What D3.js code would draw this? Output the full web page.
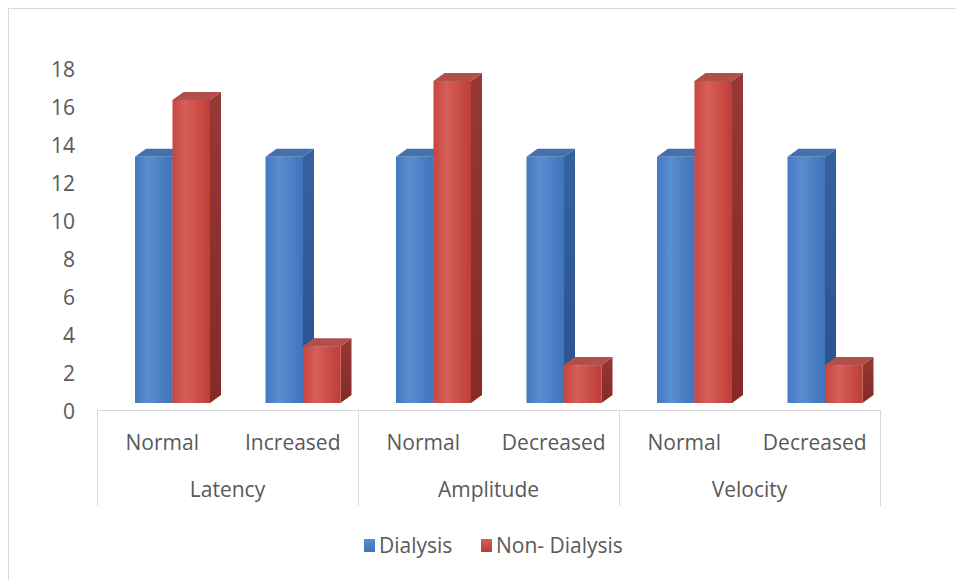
<!DOCTYPE html>
<html>
<head>
<meta charset="utf-8">
<script src="https://cdn.jsdelivr.net/npm/d3@7"></script>
<style>
  html, body { margin: 0; padding: 0; background: #fff; }
  svg { display: block; }
  text { font-family: "Open Sans", "Liberation Sans", sans-serif; fill: #595959; }
</style>
</head>
<body>
<svg id="chart" width="956" height="580"></svg>
<script>
// Nerve conduction findings by group
const groups = ["Latency", "Amplitude", "Velocity"];
const subcategories = ["Normal", "Increased", "Normal", "Decreased", "Normal", "Decreased"];
const seriesNames = ["Dialysis", "Non- Dialysis"];
const dialysis = [13, 13, 13, 13, 13, 13];
const nonDialysis = [16, 3, 17, 2, 17, 2];
const yTicks = [0, 2, 4, 6, 8, 10, 12, 14, 16, 18];

const svg = d3.select("#chart");
const W = 956, H = 580;
const FONT = 21;

// chart frame (left and top edges fall inside the view)
svg.append("rect")
  .attr("x", 8.5).attr("y", 8.5)
  .attr("width", W + 20).attr("height", H + 20)
  .attr("fill", "#fff").attr("stroke", "#d9d9d9").attr("stroke-width", 1);

const plotLeft = 97, plotRight = 880;
const baseY = 403;
const depthX = 11, depthY = -8;

const x0 = d3.scaleBand()
  .domain(d3.range(subcategories.length))
  .range([plotLeft, plotRight])
  .paddingInner(0).paddingOuter(0);
const x1 = d3.scaleBand()
  .domain(seriesNames)
  .range([38, 113]);

// front-face height scale and the back-wall scale used for tick labels
const yFront = d3.scaleLinear().domain([0, 18]).range([baseY, 62]);
const yAxisScale = d3.scaleLinear().domain([0, 18]).range([411, 69]);

// gradients
const defs = svg.append("defs");
function hGrad(id, stops) {
  const g = defs.append("linearGradient").attr("id", id)
    .attr("x1", "0%").attr("y1", "0%").attr("x2", "100%").attr("y2", "0%");
  stops.forEach(s => g.append("stop").attr("offset", s[0]).attr("stop-color", s[1]));
}
function vGrad(id, stops) {
  const g = defs.append("linearGradient").attr("id", id)
    .attr("x1", "0%").attr("y1", "0%").attr("x2", "0%").attr("y2", "100%");
  stops.forEach(s => g.append("stop").attr("offset", s[0]).attr("stop-color", s[1]));
}
hGrad("blueFront", [["0%", "#4379c2"], ["35%", "#5a8dd0"], ["100%", "#3f74bb"]]);
hGrad("redFront", [["0%", "#c8453f"], ["35%", "#d55f5a"], ["100%", "#c03d37"]]);
vGrad("blueSide", [["0%", "#35629f"], ["100%", "#2a5390"]]);
vGrad("redSide", [["0%", "#973834"], ["100%", "#842a27"]]);
vGrad("blueLeg", [["0%", "#5c8fd0"], ["100%", "#3e72b9"]]);
vGrad("redLeg", [["0%", "#d0605c"], ["100%", "#bd3b35"]]);

const palette = {
  "Dialysis": { front: "url(#blueFront)", side: "url(#blueSide)", top: "#4470ad" },
  "Non- Dialysis": { front: "url(#redFront)", side: "url(#redSide)", top: "#b0504c" }
};

// category axis
const axisG = svg.append("g");
axisG.append("line")
  .attr("x1", plotLeft).attr("x2", plotRight)
  .attr("y1", 410.5).attr("y2", 410.5)
  .attr("stroke", "#d9d9d9");
groups.forEach((g, i) => {
  const xs = x0(i * 2);
  axisG.append("line")
    .attr("x1", Math.round(xs) + 0.5).attr("x2", Math.round(xs) + 0.5)
    .attr("y1", 410).attr("y2", 506).attr("stroke", "#d9d9d9");
});
axisG.append("line")
  .attr("x1", plotRight + 0.5).attr("x2", plotRight + 0.5)
  .attr("y1", 410).attr("y2", 506).attr("stroke", "#d9d9d9");

subcategories.forEach((s, i) => {
  axisG.append("text")
    .attr("x", x0(i) + x0.bandwidth() / 2)
    .attr("y", 442)
    .attr("text-anchor", "middle")
    .attr("dominant-baseline", "central")
    .attr("font-size", FONT)
    .text(s);
});
groups.forEach((g, i) => {
  axisG.append("text")
    .attr("x", x0(i * 2) + x0.bandwidth())
    .attr("y", 489)
    .attr("text-anchor", "middle")
    .attr("dominant-baseline", "central")
    .attr("font-size", FONT)
    .text(g);
});

// value axis labels
const yAxis = d3.axisLeft(yAxisScale).tickValues(yTicks).tickSize(0).tickPadding(0);
const yG = svg.append("g").attr("transform", "translate(75,0)").call(yAxis);
yG.select(".domain").remove();
yG.selectAll("text")
  .attr("font-size", FONT)
  .attr("font-family", "'Open Sans', sans-serif")
  .attr("fill", "#595959")
  .attr("dy", "0.35em");

// 3D columns
const rows = subcategories.map((s, i) => ({ i, values: [dialysis[i], nonDialysis[i]] }));
const barsG = svg.append("g");
rows.forEach(r => {
  seriesNames.forEach((name, k) => {
    const v = r.values[k];
    const x = x0(r.i) + x1(name);
    const w = x1.bandwidth();
    const yt = yFront(v);
    const c = palette[name];
    const g = barsG.append("g");
    // side face
    g.append("polygon")
      .attr("points", [
        [x + w, yt], [x + w + depthX, yt + depthY],
        [x + w + depthX, baseY + depthY], [x + w, baseY]
      ].map(p => p.join(",")).join(" "))
      .attr("fill", c.side);
    // top face
    g.append("polygon")
      .attr("points", [
        [x, yt], [x + depthX, yt + depthY],
        [x + w + depthX, yt + depthY], [x + w, yt]
      ].map(p => p.join(",")).join(" "))
      .attr("fill", c.top);
    // front face
    g.append("rect")
      .attr("x", x).attr("y", yt)
      .attr("width", w).attr("height", baseY - yt)
      .attr("fill", c.front);
  });
});

// legend
const legend = svg.append("g");
const legendItems = [
  { name: seriesNames[0], fill: "url(#blueLeg)", x: 364 },
  { name: seriesNames[1], fill: "url(#redLeg)", x: 481 }
];
legendItems.forEach(d => {
  legend.append("rect")
    .attr("x", d.x).attr("y", 539)
    .attr("width", 11).attr("height", 13)
    .attr("fill", d.fill);
  legend.append("text")
    .attr("x", d.x + 15).attr("y", 545)
    .attr("dominant-baseline", "central")
    .attr("font-size", FONT)
    .text(d.name);
});
</script>
</body>
</html>
